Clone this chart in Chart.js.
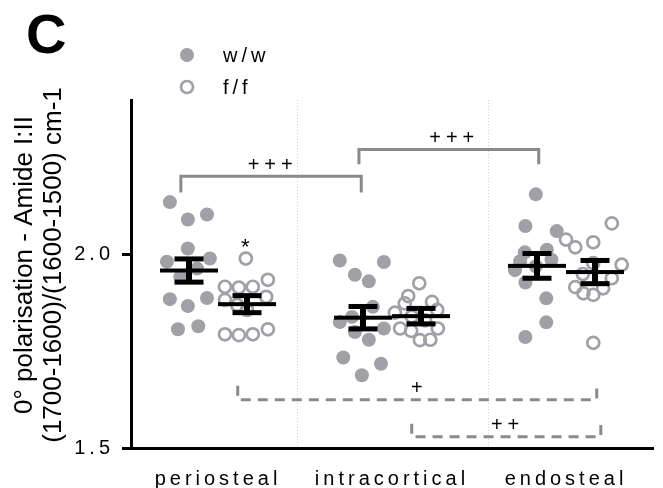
<!DOCTYPE html>
<html lang="en">
<head>
<meta charset="UTF-8">
<title>Amide I:II by region</title>
<style>
  html, body { margin: 0; padding: 0; background: #fff; }
</style>
</head>
<body>
<canvas id="myChart" width="663" height="488"></canvas>

<script src="https://cdn.jsdelivr.net/npm/chart.js"></script>
<script>
// ---- data ----
var groups = ['periosteal', 'intracortical', 'endosteal']
var groupX = [1.5, 4.5, 7.5]
var yTicks = [1.5, 2.0]

var periostealWwX = [0.67, 0.98, 1.31, 0.98, 0.62, 1.36, 1.14, 0.85, 0.67, 0.98, 1.31, 0.81, 1.16]
var periostealWwY = [2.136, 2.091, 2.104, 2.016, 1.982, 1.990, 1.964, 1.943, 1.885, 1.867, 1.888, 1.807, 1.815]
var periostealFfX = [1.98, 2.36, 1.62, 1.86, 2.10, 1.62, 2.33, 2.00, 1.83, 1.62, 1.86, 2.10, 2.36]
var periostealFfY = [1.990, 1.935, 1.917, 1.915, 1.917, 1.883, 1.891, 1.857, 1.870, 1.794, 1.792, 1.794, 1.807]

var intracorticalWwX = [3.60, 4.36, 3.86, 4.10, 4.17, 3.60, 3.81, 3.86, 4.10, 4.36, 3.66, 4.31, 3.98]
var intracorticalWwY = [1.985, 1.981, 1.948, 1.931, 1.865, 1.826, 1.839, 1.800, 1.780, 1.809, 1.734, 1.718, 1.688]
var intracorticalFfX = [4.97, 4.78, 4.72, 5.19, 5.28, 4.64, 4.83, 5.29, 4.98, 5.16, 4.84, 5.07, 4.55]
var intracorticalFfY = [1.926, 1.893, 1.874, 1.878, 1.857, 1.809, 1.803, 1.809, 1.779, 1.780, 1.840, 1.830, 1.850]

var endostealWwX = [6.98, 6.80, 7.34, 6.79, 7.17, 6.71, 7.25, 6.80, 7.16, 7.16, 6.80, 6.98, 6.62]
var endostealWwY = [2.156, 2.074, 2.061, 2.006, 2.013, 1.983, 1.987, 1.928, 1.887, 1.825, 1.787, 1.970, 1.960]
var endostealFfX = [8.29, 7.50, 7.66, 7.97, 8.46, 7.97, 8.29, 7.66, 7.80, 7.97, 8.14, 7.97, 7.79]
var endostealFfY = [2.081, 2.039, 2.019, 2.032, 1.974, 1.978, 1.939, 1.916, 1.900, 1.896, 1.913, 1.772, 1.950]

// mean +/- SEM per group
var wwPos = [1, 4, 7]
var wwMean = [1.959, 1.837, 1.971]
var wwSem = [0.030, 0.029, 0.032]
var ffPos = [2, 5, 8]
var ffMean = [1.872, 1.841, 1.955]
var ffSem = [0.022, 0.020, 0.030]

// significance brackets
var bracketFrom = [0.86, 3.93, 1.84, 4.84]
var bracketTo = [3.97, 7.03, 8.03, 8.10]
var bracketLevel = [2.203, 2.272, 1.625, 1.529]
var bracketEnd = [2.161, 2.234, 1.661, 1.563]
var bracketText = ['+++', '+++', '+', '++']
var bracketTextX = [2.40, 5.53, 4.93, 6.45]
var bracketDashed = [false, false, true, true]

var starX = 1.97
var starY = 2.035

var separators = [2.86, 6.16]

var yTitle = ['0° polarisation - Amide I:II', '(1700-1600)/(1600-1500) cm-1']

// ---- chart ----
var FONT = '"Liberation Sans", Arial, sans-serif'
var GREY = '#a0a0a6'
var BRACKET = '#8a8a8a'

function pts(xs, ys) {
    return xs.map((v, i) => ({ x: v, y: ys[i] }))
}

var wwData = pts(periostealWwX, periostealWwY).concat(pts(intracorticalWwX, intracorticalWwY), pts(endostealWwX, endostealWwY))
var ffData = pts(periostealFfX, periostealFfY).concat(pts(intracorticalFfX, intracorticalFfY), pts(endostealFfX, endostealFfY))

var bracketSets = bracketFrom.map((x1, i) => ({
    type: 'line',
    data: [
        { x: x1, y: bracketEnd[i] },
        { x: x1, y: bracketLevel[i] },
        { x: bracketTo[i], y: bracketLevel[i] },
        { x: bracketTo[i], y: bracketEnd[i] }
    ],
    showLine: true,
    borderColor: BRACKET,
    borderWidth: 3,
    borderDash: bracketDashed[i] ? [10, 7] : [],
    borderCapStyle: 'butt',
    pointRadius: 0,
    fill: false,
    tension: 0
}))

function spacedText(ctx, text, cx, cy, sp) {
    ctx.letterSpacing = sp + 'px'
    var w = ctx.measureText(text).width - sp
    ctx.textAlign = 'left'
    ctx.fillText(text, cx - w / 2, cy)
    ctx.letterSpacing = '0px'
}

var overlay = {
    id: 'overlay',
    beforeDraw(chart) {
        chart.ctx.letterSpacing = '4px'
    },
    beforeDatasetsDraw(chart) {
        var ctx = chart.ctx, area = chart.chartArea, x = chart.scales.x
        ctx.letterSpacing = '0px'
        ctx.save()
        ctx.strokeStyle = '#d4d4d4'
        ctx.lineWidth = 1
        ctx.setLineDash([1, 2])
        separators.forEach(v => {
            var px = Math.round(x.getPixelForValue(v)) + 0.5
            ctx.beginPath()
            ctx.moveTo(px, area.top)
            ctx.lineTo(px, area.bottom - 2)
            ctx.stroke()
        })
        ctx.restore()
    },
    afterDatasetsDraw(chart) {
        var ctx = chart.ctx, x = chart.scales.x, y = chart.scales.y
        ctx.save()
        ctx.fillStyle = '#000'
        function meanSem(pos, m, s) {
            var cx = x.getPixelForValue(pos)
            var half = x.getPixelForValue(pos + 0.5) - cx
            var cap = half * 0.5
            var ym = y.getPixelForValue(m), yt = y.getPixelForValue(m + s), yb = y.getPixelForValue(m - s)
            ctx.fillRect(cx - half, ym - 2, half * 2, 4)
            ctx.fillRect(cx - 3, yt, 6, yb - yt)
            ctx.fillRect(cx - cap, yt - 2.5, cap * 2, 5)
            ctx.fillRect(cx - cap, yb - 2.5, cap * 2, 5)
        }
        wwPos.forEach((p, i) => meanSem(p, wwMean[i], wwSem[i]))
        ffPos.forEach((p, i) => meanSem(p, ffMean[i], ffSem[i]))

        ctx.fillStyle = '#000'
        ctx.font = '20px ' + FONT
        ctx.textBaseline = 'middle'
        bracketText.forEach((t, i) => {
            spacedText(ctx, t, x.getPixelForValue(bracketTextX[i]), y.getPixelForValue(bracketLevel[i]) - 11, 5)
        })
        ctx.textBaseline = 'alphabetic'
        ctx.font = '22px ' + FONT
        spacedText(ctx, '*', x.getPixelForValue(starX), y.getPixelForValue(starY) + 13, 0)
        ctx.restore()
    },
    afterDraw(chart) {
        var ctx = chart.ctx
        ctx.save()
        ctx.letterSpacing = '0px'
        // panel letter
        ctx.fillStyle = '#000'
        ctx.font = 'bold 56px ' + FONT
        ctx.textAlign = 'left'
        ctx.textBaseline = 'alphabetic'
        ctx.fillText('C', 26, 53)

        // legend
        ctx.fillStyle = GREY
        ctx.beginPath()
        ctx.arc(187, 55, 7, 0, Math.PI * 2)
        ctx.fill()
        ctx.strokeStyle = GREY
        ctx.lineWidth = 2.7
        ctx.beginPath()
        ctx.arc(187, 87, 6, 0, Math.PI * 2)
        ctx.stroke()
        ctx.fillStyle = '#000'
        ctx.font = '20px ' + FONT
        ctx.textBaseline = 'middle'
        ctx.letterSpacing = '4px'
        ctx.fillText('w/w', 223, 56)
        ctx.fillText('f/f', 223, 88)
        ctx.letterSpacing = '0px'

        // y axis title, two lines
        ctx.font = '26px ' + FONT
        ctx.textAlign = 'center'
        ctx.textBaseline = 'middle'
        var xs = [25, 54]
        yTitle.forEach((t, i) => {
            ctx.save()
            ctx.translate(xs[i], 265)
            ctx.rotate(-Math.PI / 2)
            ctx.fillText(t, 0, 0)
            ctx.restore()
        })
        ctx.restore()
    }
}

var ctx = document.getElementById('myChart')
var myChart = new Chart(ctx, {
    type: 'scatter',
    data: {
        datasets: [
            {
                label: 'w/w',
                data: wwData,
                backgroundColor: GREY,
                borderWidth: 0,
                pointRadius: 7,
                pointHoverRadius: 7
            },
            {
                label: 'f/f',
                data: ffData,
                backgroundColor: 'rgba(0,0,0,0)',
                borderColor: GREY,
                borderWidth: 2.7,
                pointRadius: 6,
                pointHoverRadius: 6
            }
        ].concat(bracketSets)
    },
    options: {
        responsive: false,
        animation: false,
        events: [],
        layout: { padding: { top: 100, right: 10, left: 0, bottom: 0 } },
        plugins: {
            legend: { display: false },
            tooltip: { enabled: false }
        },
        scales: {
            x: {
                type: 'linear',
                min: 0,
                max: 9,
                afterFit: s => { s.height = 40 },
                afterBuildTicks: s => { s.ticks = groupX.map(v => ({ value: v })) },
                ticks: {
                    autoSkip: false,
                    maxRotation: 0,
                    padding: 11,
                    color: '#000',
                    font: { size: 20, family: FONT },
                    callback: (v, i) => groups[i]
                },
                grid: { display: false },
                border: { display: true, color: '#000', width: 3 }
            },
            y: {
                min: 1.5,
                max: 2.4,
                afterFit: s => { s.width = 131 },
                afterBuildTicks: s => { s.ticks = yTicks.map(v => ({ value: v })) },
                ticks: {
                    padding: 8,
                    color: '#000',
                    font: { size: 20, family: FONT },
                    callback: v => v.toFixed(1)
                },
                grid: {
                    drawOnChartArea: false,
                    drawTicks: true,
                    tickLength: 9,
                    tickWidth: 3,
                    tickColor: '#000',
                    lineWidth: 3,
                    color: '#000'
                },
                border: { display: true, color: '#000', width: 3 }
            }
        }
    },
    plugins: [overlay]
})
</script>
</body>
</html>
